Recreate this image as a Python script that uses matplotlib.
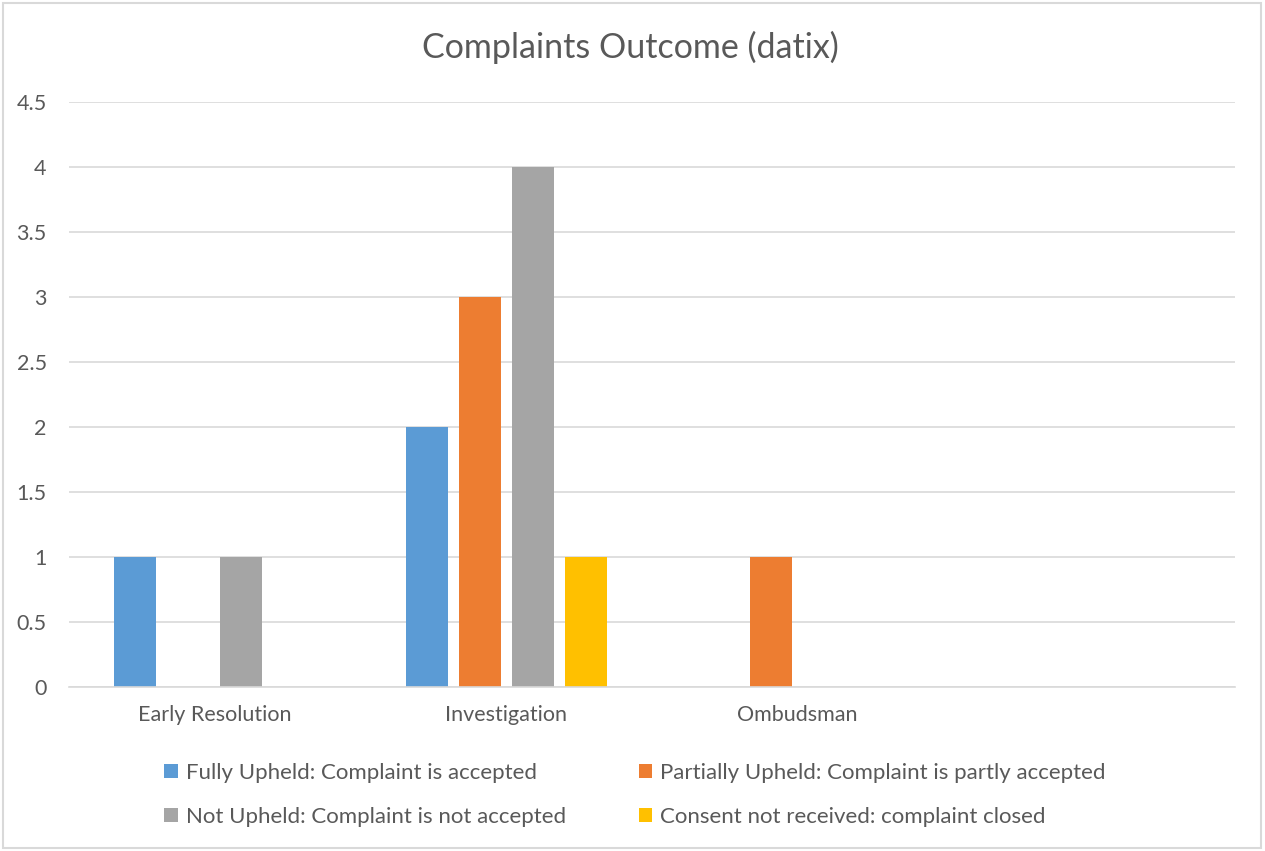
import numpy as np
import matplotlib.pyplot as plt
from matplotlib.patches import Rectangle

plt.rcParams['font.family'] = ['Lato', 'DejaVu Sans']

categories = ['Early Resolution', 'Investigation', 'Ombudsman', '']
series_names = [
    'Fully Upheld: Complaint is accepted',
    'Partially Upheld: Complaint is partly accepted',
    'Not Upheld: Complaint is not accepted',
    'Consent not received: complaint closed',
]
fully_upheld = [1, 2, 0, 0]
partially_upheld = [0, 3, 1, 0]
not_upheld = [1, 4, 0, 0]
consent_not_received = [0, 1, 0, 0]
colors = ['#5B9BD5', '#ED7D31', '#A5A5A5', '#FFC000']
text_col = '#595959'
grid_col = '#D9D9D9'

fig = plt.figure(figsize=(12.65, 8.51), dpi=100)
ax = fig.add_axes([0.0545, 0.1927, 0.9218, 0.6874])

x = np.arange(len(categories))
width = 0.144
step = 0.182
handles = []
for i, (vals, name, c) in enumerate(zip(
        [fully_upheld, partially_upheld, not_upheld, consent_not_received],
        series_names, colors)):
    b = ax.bar(x + (i - 1.5) * step, vals, width, color=c, label=name, zorder=3)
    handles.append(b)

ax.set_xlim(-0.5, len(categories) - 0.5)
ax.set_ylim(0, 4.5)
ax.set_yticks(np.arange(0, 4.51, 0.5))
ax.set_yticklabels(['0', '0.5', '1', '1.5', '2', '2.5', '3', '3.5', '4', '4.5'])
ax.set_xticks(x)
ax.set_xticklabels(categories)
ax.tick_params(axis='both', length=0, colors=text_col, labelsize=15.5)
ax.tick_params(axis='x', pad=13)
ax.tick_params(axis='y', pad=16)
ax.yaxis.grid(True, color=grid_col, linewidth=1.2, zorder=0)
for s in ['top', 'right', 'left']:
    ax.spines[s].set_visible(False)
ax.spines['bottom'].set_color(grid_col)
ax.spines['bottom'].set_linewidth(1.2)
ax.spines['bottom'].set_zorder(4)

fig.text(0.4985, 0.944, 'Complaints Outcome (datix)', ha='center', va='center',
         fontsize=24.5, color=text_col)

# matplotlib fills legend column by column; reorder so rows read like Excel
order = [0, 2, 1, 3]
fig.legend(handles=[handles[i] for i in order], loc='center',
           bbox_to_anchor=(635 / 1265, 56 / 851),
           ncol=2, frameon=False, fontsize=16, labelcolor=text_col,
           handlelength=0.6, handleheight=0.6, handletextpad=0.35,
           columnspacing=3.3, labelspacing=1.1)

fig.patches.append(Rectangle((0.002, 0.003), 0.995, 0.993, transform=fig.transFigure,
                             fill=False, edgecolor=grid_col, linewidth=1.5))

fig.savefig('out.png', dpi=100)
